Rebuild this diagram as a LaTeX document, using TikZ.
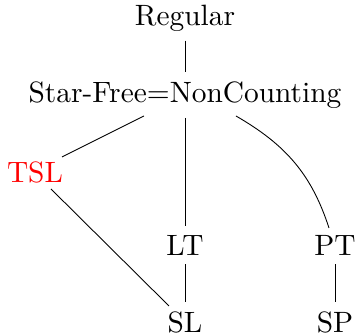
\documentclass[tikz,border=0pt]{standalone}
\usetikzlibrary{calc}
\begin{document}
\begin{tikzpicture}[x=0.34pt,y=-0.34pt,
  lbl/.style={inner sep=3pt, font=\normalsize},
  edge/.style={draw=black, line width=0.3pt}]
\useasboundingbox (0,0) rectangle (356,335);
\node[lbl] (reg) at (185,18) {Regular};
\node[lbl] (sf) at (185,95) {Star-Free=NonCounting};
\node[lbl, text=red] (tsl) at (35,172) {TSL};
\node[lbl] (lt) at (185,245) {LT};
\node[lbl] (pt) at (335,245) {PT};
\node[lbl] (sl) at (185,322) {SL};
\node[lbl] (sp) at (335,322) {SP};
\draw[edge] (reg) -- (sf);
\draw[edge] ($(sf)+(-41,21)$) -- ($(tsl)+(27,-15)$);
\draw[edge] (sf) -- (lt);
\draw[edge] ($(sf)+(51,21)$) to[out=-30,in=108] ($(pt)+(-6,-17)$);
\draw[edge] ($(tsl)+(16,17)$) -- ($(sl)+(-16,-16)$);
\draw[edge] (lt) -- (sl);
\draw[edge] (pt) -- (sp);
\end{tikzpicture}
\end{document}
